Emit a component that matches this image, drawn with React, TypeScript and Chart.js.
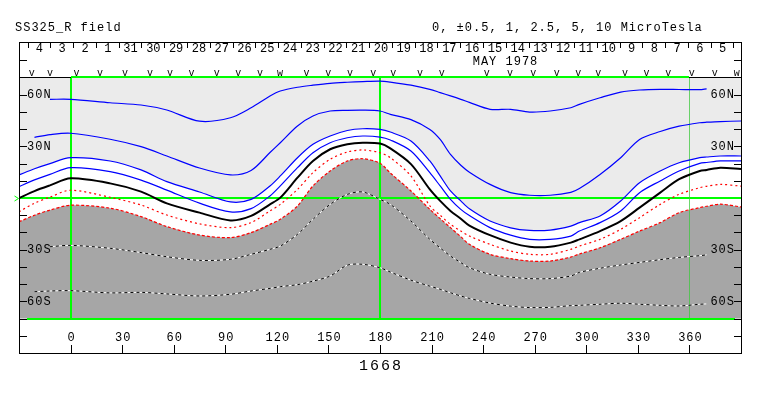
import React, { useEffect, useRef } from "react";
import { Chart, registerables } from "chart.js";

Chart.register(...registerables);

// ---------- DATA ----------
// Carrington longitude grid (degrees)
const LON = [-30, -21, -12, 0, 23, 41, 56, 75, 93, 105, 116, 122, 132, 141, 151, 161, 170, 180, 186, 198, 209, 215, 221, 227, 232, 244, 256, 267, 279, 291, 296, 308, 320, 331, 343, 354, 366, 370, 378, 390];

const N = null;
// contour latitudes (degrees) on the LON grid
const POS_5 = [N, N, 57.3, 57.3, 55.3, 54.0, 51.1, 44.6, 46.6, 52.4, 59.2, 62.1, 64.3, 65.5, 66.6, 67.2, 67.6, 67.9, 67.3, 65.5, 63.1, 61.2, 59.3, 57.3, 55.5, 51.5, 51.5, 49.9, 50.5, 52.4, 54.4, 58.2, 61.5, 62.7, 63.1, 63.0, 62.9, 63.4, N, N];
const POS_25 = [N, 35.2, 36.8, 37.6, 34.1, 29.8, 24.4, 17.4, 13.4, 16.0, 26.4, 32.1, 41.8, 47.6, 50.5, 50.9, 51.0, 50.5, 48.6, 45.5, 39.8, 34.0, 25.3, 19.0, 15.0, 7.9, 3.1, 1.6, 1.6, 3.3, 5.5, 13.7, 23.4, 34.0, 38.6, 41.7, 43.7, 44.0, 44.4, 44.7];
const POS_1 = [13.4, 17.0, 20.0, 23.4, 21.5, 16.3, 9.5, 3.5, -2.3, -0.8, 7.0, 12.8, 23.4, 31.2, 36.0, 39.2, 40.2, 39.8, 38.3, 33.1, 21.5, 12.8, 4.1, -1.7, -6.3, -13.4, -17.3, -18.8, -18.6, -16.3, -14.3, -10.4, -1.7, 8.9, 15.7, 20.5, 23.4, 23.8, 24.4, 24.4];
const POS_05 = [6.6, 10.5, 13.7, 17.6, 15.3, 10.4, 4.6, -3.0, -8.1, -6.2, 1.2, 7.0, 17.6, 26.3, 32.1, 35.0, 36.0, 35.4, 33.7, 27.3, 14.7, 7.0, -0.8, -6.6, -10.2, -17.2, -21.6, -24.0, -24.0, -22.1, -19.2, -14.3, -7.5, 3.1, 9.9, 15.7, 20.1, 20.6, 21.5, 21.5];
const ZERO = [0, 4.0, 7.3, 11.4, 8.5, 3.7, -3.1, -8.5, -13.0, -10.4, -3.7, 0.2, 11.8, 21.5, 28.3, 31.2, 32.1, 31.6, 28.8, 19.7, 5.0, -1.7, -7.5, -12.0, -16.0, -21.6, -25.9, -28.3, -28.3, -25.9, -24.0, -19.2, -13.4, -5.6, 3.1, 10.9, 15.7, 16.3, 17.6, 16.8];
const NEG_05 = [-8.0, -3.0, 0.5, 4.5, 0.4, -4.1, -9.9, -15.0, -17.2, -14.3, -7.5, -3.7, 5.0, 14.7, 22.5, 26.7, 27.9, 26.3, 23.4, 12.8, -4.6, -10.0, -15.3, -19.2, -22.1, -26.9, -30.8, -32.7, -32.7, -29.8, -27.9, -24.0, -18.2, -11.4, -3.7, 2.1, 6.0, 6.8, 7.9, 6.9];
const NEG_1 = [-13.8, -10.0, -7.0, -4.2, -5.9, -10.8, -16.6, -21.5, -23.0, -20.1, -15.3, -12.4, -4.6, 7.0, 15.7, 21.5, 22.8, 20.2, 14.5, 4.1, -6.6, -12.0, -17.2, -22.5, -26.9, -32.7, -35.2, -36.6, -36.6, -34.3, -32.5, -28.9, -24.0, -19.2, -14.3, -8.5, -5.6, -4.8, -3.6, -5.2];
const NEG_25 = [N, N, -28.3, -27.5, -29.2, -31.7, -34.1, -36.2, -35.6, -32.7, -29.8, -27.9, -21.1, -12.4, -3.7, 2.1, 3.5, -0.8, -3.7, -13.4, -24.0, -29.0, -33.7, -37.5, -40.5, -44.3, -45.9, -46.8, -46.8, -45.3, -43.2, -40.8, -38.9, -37.4, -35.8, -34.5, -33.5, -33.0, N, N];
const NEG_5 = [N, -54.4, -54.0, -53.8, -55.1, -54.8, -55.7, -56.9, -55.9, -54.0, -52.5, -51.5, -50.3, -48.3, -45.3, -39.0, -38.5, -40.5, -43.0, -47.7, -51.2, -53.0, -55.0, -56.9, -58.3, -61.0, -62.8, -63.6, -63.5, -62.5, -62.3, -61.7, -61.1, -61.7, -62.3, -62.7, -61.7, -61.5, N, N];

// axes
const X_TICKS = [0, 30, 60, 90, 120, 150, 180, 210, 240, 270, 300, 330, 360];
const Y_TICKS = [-80, -70, -60, -50, -40, -30, -20, -10, 10, 20, 30, 40, 50, 60, 70, 80];
const Y_LABEL_LATS = [60, 30, -30, -60];
const Y_LABELS = ["60N", "30N", "30S", "60S"];

// date strip
const DAY_LABELS = ["4", "3", "2", "1", "31", "30", "29", "28", "27", "26", "25", "24", "23", "22", "21", "20", "19", "18", "17", "16", "15", "14", "13", "12", "11", "10", "9", "8", "7", "6", "5"];
const DAY_BOUNDS = [-25.0, -11.8, 1.5, 14.7, 28.0, 41.2, 54.5, 67.7, 81.0, 94.2, 107.5, 120.7, 134.0, 147.2, 160.4, 173.7, 186.9, 200.2, 213.4, 226.7, 239.9, 253.2, 266.4, 279.7, 292.9, 306.2, 319.4, 332.6, 345.9, 359.1, 372.4, 385.6];
const OBS_LON = [-22.6, -12.0, 3.5, 17.1, 31.6, 46.2, 57.8, 70.4, 85.0, 97.6, 110.2, 121.8, 137.3, 149.9, 162.5, 176.1, 187.7, 203.2, 215.9, 242.1, 255.6, 269.2, 282.8, 295.3, 307.0, 322.5, 335.1, 347.7, 361.3, 374.8, 387.5];
const OBS_MARK = ["v", "v", "v", "v", "v", "v", "v", "v", "v", "v", "v", "w", "v", "v", "v", "v", "v", "v", "v", "v", "v", "v", "v", "v", "v", "v", "v", "v", "v", "v", "w"];

const TITLE_LEFT = "SS325_R field";
const TITLE_RIGHT = "0, \u00B10.5, 1, 2.5, 5, 10 MicroTesla";
const MONTH = "MAY 1978";
const MONTH_LON = 253;
const ROTATION = "1668";

// ---------- RENDER ----------
const FONT = '"Liberation Mono", "DejaVu Sans Mono", monospace';
const GREEN = "#00ff00";

const pts = (vals: (number | null)[]) => LON.map((x, i) => ({ x, y: vals[i] }));

const decor = {
  id: "decor",
  beforeDraw(chart: any) {
    const { ctx } = chart;
    const xs = chart.scales.x, ys = chart.scales.y;
    ctx.save();
    ctx.fillStyle = "#ffffff";
    ctx.fillRect(0, 0, chart.width, chart.height);
    const l = xs.getPixelForValue(-30), r = xs.getPixelForValue(390);
    const t = ys.getPixelForValue(70), b = ys.getPixelForValue(-70);
    ctx.fillStyle = "#ebebeb";
    ctx.fillRect(l, t, r - l, b - t);
    ctx.restore();
  },
  beforeDatasetsDraw(chart: any) {
    const { ctx } = chart;
    const xs = chart.scales.x, ys = chart.scales.y;
    const l = Math.round(xs.getPixelForValue(-30)), r = Math.round(xs.getPixelForValue(390));
    const yTop = Math.round(ys.getPixelForValue(70));
    const yBot = Math.round(ys.getPixelForValue(-70));
    const yEq = Math.round(ys.getPixelForValue(0));
    ctx.save();
    ctx.fillStyle = GREEN;
    ctx.fillRect(l, yEq - 1, r - l, 2);
    [0, 180].forEach((lon) => {
      const xx = Math.round(xs.getPixelForValue(lon));
      ctx.fillRect(xx - 1, yTop, 2, yBot - yTop);
    });
    ctx.fillStyle = "rgba(60,200,60,0.75)";
    const x360 = Math.round(xs.getPixelForValue(360));
    ctx.fillRect(x360, yTop, 1, yBot - yTop);
    // top boundary
    ctx.fillStyle = "#000";
    ctx.fillRect(l, yTop, r - l, 1);
    ctx.fillStyle = GREEN;
    const x0 = Math.round(xs.getPixelForValue(0));
    ctx.fillRect(x0, yTop - 1, x360 - x0, 2);
    // bottom boundary
    ctx.fillRect(l + 8, yBot - 1, r - l - 14, 2);
    ctx.restore();
  },
  afterDraw(chart: any) {
    const { ctx } = chart;
    const xs = chart.scales.x, ys = chart.scales.y;
    const L = 19, R = 741, T = 42, B = 353;
    ctx.save();
    ctx.strokeStyle = "#000";
    ctx.lineWidth = 1;
    ctx.strokeRect(L + 0.5, T + 0.5, R - L, B - T);

    ctx.beginPath();
    Y_TICKS.forEach((lat) => {
      const yy = Math.round(ys.getPixelForValue(lat)) + 0.5;
      ctx.moveTo(L, yy); ctx.lineTo(L + 8, yy);
      ctx.moveTo(R + 1, yy); ctx.lineTo(R - 7, yy);
    });
    X_TICKS.forEach((lon) => {
      const xx = Math.round(xs.getPixelForValue(lon)) + 0.5;
      ctx.moveTo(xx, B); ctx.lineTo(xx, B - 8);
    });
    DAY_BOUNDS.forEach((lon) => {
      const xx = Math.round(xs.getPixelForValue(lon)) + 0.5;
      ctx.moveTo(xx, T); ctx.lineTo(xx, T + 6);
    });
    ctx.stroke();

    // equator marker
    ctx.strokeStyle = GREEN;
    ctx.beginPath();
    const ye = Math.round(ys.getPixelForValue(0)) + 0.5;
    ctx.moveTo(14.5, ye - 2.5); ctx.lineTo(18.5, ye); ctx.lineTo(14.5, ye + 2.5);
    ctx.stroke();

    ctx.fillStyle = "#000";
    (ctx as any).letterSpacing = "1px";
    ctx.font = `12px ${FONT}`;
    ctx.textBaseline = "middle";
    Y_LABEL_LATS.forEach((lat, i) => {
      const yy = ys.getPixelForValue(lat) + 0.5;
      ctx.textAlign = "left";
      ctx.fillText(Y_LABELS[i], L + 8, yy);
      ctx.textAlign = "right";
      ctx.fillText(Y_LABELS[i], R - 6, yy);
    });
    ctx.textAlign = "center";
    X_TICKS.forEach((lon) => {
      ctx.fillText(String(lon), xs.getPixelForValue(lon) + 1, 338);
    });
    ctx.textAlign = "left";
    ctx.fillText(TITLE_LEFT, 15, 28);
    ctx.fillText(TITLE_RIGHT, 432, 28);
    ctx.textAlign = "center";
    ctx.fillText(MONTH, xs.getPixelForValue(MONTH_LON), 62);
    (ctx as any).letterSpacing = "0px";
    ctx.font = `12px ${FONT}`;
    DAY_LABELS.forEach((d, i) => {
      const xm = (xs.getPixelForValue(DAY_BOUNDS[i]) + xs.getPixelForValue(DAY_BOUNDS[i + 1])) / 2;
      ctx.fillText(d, xm + 0.5, 49);
    });
    ctx.font = `10px ${FONT}`;
    ctx.textBaseline = "alphabetic";
    OBS_LON.forEach((lon, i) => {
      ctx.fillText(OBS_MARK[i], xs.getPixelForValue(lon), 76);
    });
    (ctx as any).letterSpacing = "2px";
    ctx.font = `15px ${FONT}`;
    ctx.textBaseline = "middle";
    ctx.fillText(ROTATION, xs.getPixelForValue(180) + 1, 366);
    ctx.restore();
  },
};

export default function App() {
  const ref = useRef<HTMLCanvasElement>(null);
  useEffect(() => {
    const blue = "#0000ff", red = "#ff0000";
    const base = { pointRadius: 0, spanGaps: true, fill: false, tension: 0.3 };
    const chart = new Chart(ref.current as HTMLCanvasElement, {
      type: "line",
      data: {
        datasets: [
          { ...base, label: "0", data: pts(ZERO), borderColor: "#000", borderWidth: 2 },
          { ...base, label: "+5", data: pts(POS_5), borderColor: blue, borderWidth: 1.2 },
          { ...base, label: "+2.5", data: pts(POS_25), borderColor: blue, borderWidth: 1.2 },
          { ...base, label: "+0.5", data: pts(POS_05), borderColor: blue, borderWidth: 1.2 },
          { ...base, label: "-0.5", data: pts(NEG_05), borderColor: red, borderWidth: 1.2, borderDash: [2, 3] },
          { ...base, label: "-2.5", data: pts(NEG_25), borderColor: "#000", borderWidth: 1, borderDash: [3, 3] },
          { ...base, label: "-2.5 bg", data: pts(NEG_25), borderColor: "#fff", borderWidth: 1 },
          { ...base, label: "-5", data: pts(NEG_5), borderColor: "#000", borderWidth: 1, borderDash: [3, 3] },
          { ...base, label: "-5 bg", data: pts(NEG_5), borderColor: "#fff", borderWidth: 1 },
          { ...base, label: "-1", data: pts(NEG_1), borderColor: red, borderWidth: 1.2, borderDash: [3, 2], fill: { value: -70 }, backgroundColor: "#a6a6a6" },
          { ...base, label: "+1", data: pts(POS_1), borderColor: blue, borderWidth: 1.2, fill: { value: -70 }, backgroundColor: "#ffffff" },
        ] as any,
      },
      options: {
        responsive: false,
        animation: false,
        devicePixelRatio: 1,
        events: [],
        layout: { padding: { left: 19, right: 22, top: 43, bottom: 43 } },
        scales: {
          x: { type: "linear", min: -30, max: 390, display: false },
          y: { type: "linear", min: -90, max: 90, display: false },
        },
        plugins: {
          legend: { display: false },
          tooltip: { enabled: false },
          filler: { drawTime: "beforeDatasetsDraw", propagate: false },
        } as any,
      },
      plugins: [decor],
    });
    return () => chart.destroy();
  }, []);
  return (
    <div style={{ position: "fixed", left: 0, top: 0, width: 763, height: 396, background: "#fff" }}>
      <canvas ref={ref} width={763} height={396} style={{ display: "block", width: 763, height: 396 }} />
    </div>
  );
}
